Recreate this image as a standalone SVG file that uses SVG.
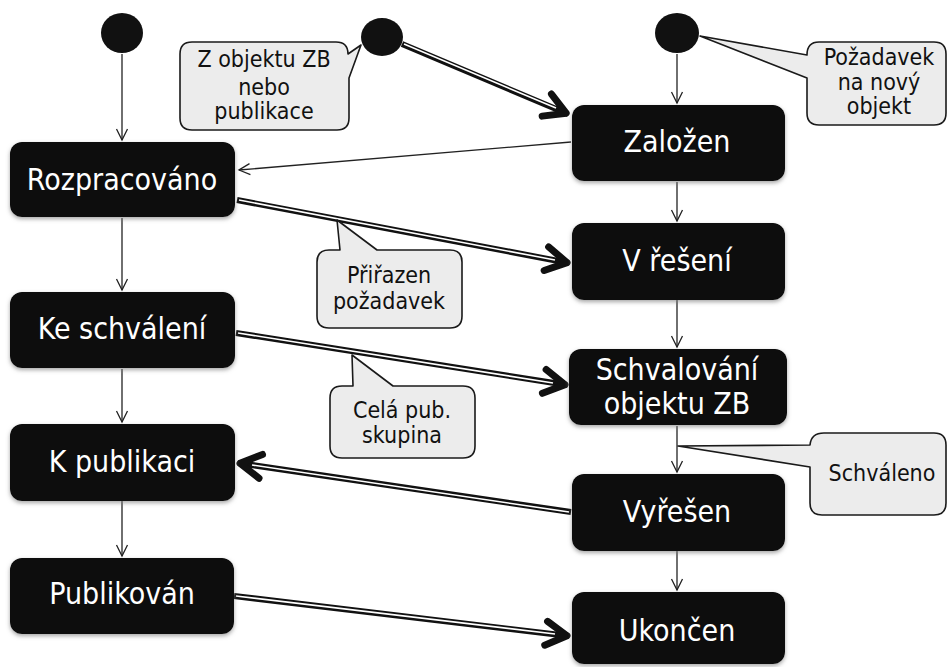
<svg xmlns="http://www.w3.org/2000/svg" width="949" height="667" viewBox="0 0 949 667">
  <defs>
    <style>
      .state rect { fill: #0d0d0d; filter: url(#halo); }
      .state text { fill: #ffffff; font-family: "DejaVu Sans Condensed", "DejaVu Sans", sans-serif; font-stretch: condensed; font-size: 30px; text-anchor: middle; }
      .start { fill: #111111; }
      .note path { fill: #ececec; stroke: #1a1a1a; stroke-width: 1.6; stroke-linejoin: round; }
      .note text { fill: #111111; font-family: "DejaVu Sans Condensed", "DejaVu Sans", sans-serif; font-stretch: condensed; font-size: 23px; text-anchor: middle; }
      .thin { fill: none; stroke: #222222; stroke-width: 1.3; marker-end: url(#open); }
      .thick { fill: none; stroke: #111111; stroke-width: 6; marker-end: url(#bold); }
      .core { fill: none; stroke: #ffffff; stroke-width: 1.6; }
    </style>
    <filter id="halo" x="-10%" y="-15%" width="120%" height="135%">
      <feGaussianBlur in="SourceAlpha" stdDeviation="2"/>
      <feOffset dx="0" dy="2" result="b"/>
      <feFlood flood-color="#808080" flood-opacity="0.7"/>
      <feComposite in2="b" operator="in"/>
      <feMerge><feMergeNode/><feMergeNode in="SourceGraphic"/></feMerge>
    </filter>
    <marker id="open" markerUnits="userSpaceOnUse" viewBox="-14 -8 16 16" markerWidth="16" markerHeight="16" refX="0" refY="0" orient="auto" overflow="visible">
      <path d="M-11,-5.5 L0,0 L-11,5.5" fill="none" stroke="#222222" stroke-width="1.3"/>
    </marker>
    <marker id="bold" markerUnits="userSpaceOnUse" viewBox="-30 -16 34 32" markerWidth="34" markerHeight="32" refX="0" refY="0" orient="auto" overflow="visible">
      <path d="M-23,-12 L-2,0 L-23,12" fill="none" stroke="#111111" stroke-width="7" stroke-linecap="round" stroke-linejoin="round"/>
    </marker>
  </defs>

  <rect width="949" height="667" fill="#ffffff"/>

  <!-- connectors -->
  <g id="connectors">
    <path class="thin" d="M122,54 L122,140"/>
    <path class="thin" d="M677,54 L677,103"/>
    <path class="thin" d="M571,142 L239,170"/>
    <path class="thin" d="M677,182 L677,221"/>
    <path class="thin" d="M677,300 L677,347"/>
    <path class="thin" d="M677,426 L677,472"/>
    <path class="thin" d="M677,551 L677,590"/>
    <path class="thin" d="M122,218 L122,290"/>
    <path class="thin" d="M122,369 L122,422"/>
    <path class="thin" d="M122,501 L122,556"/>

    <path class="thick" d="M402,44 L568,114"/>
    <path class="core" d="M404,44 L556,108"/>
    <path class="thick" d="M237,200 L569,263"/>
    <path class="core" d="M239,200 L555,260"/>
    <path class="thick" d="M236,333 L567,385"/>
    <path class="core" d="M238,333 L553,383"/>
    <path class="thick" d="M571,512 L238,463"/>
    <path class="core" d="M569,512 L252,465"/>
    <path class="thick" d="M234,596 L569,636"/>
    <path class="core" d="M236,596 L555,634"/>
  </g>

  <!-- start points -->
  <g id="start-left"><ellipse class="start" cx="122" cy="33" rx="21" ry="20"/></g>
  <g id="start-middle"><ellipse class="start" cx="382" cy="37" rx="21" ry="19"/></g>
  <g id="start-right"><ellipse class="start" cx="677" cy="33" rx="22" ry="20"/></g>

  <!-- states -->
  <g id="rozpracovano" class="state">
    <rect x="10" y="142" width="225" height="75" rx="12"/>
    <text x="122" y="190">Rozpracováno</text>
  </g>
  <g id="ke-schvaleni" class="state">
    <rect x="10" y="292" width="225" height="76" rx="12"/>
    <text x="122" y="339">Ke schválení</text>
  </g>
  <g id="k-publikaci" class="state">
    <rect x="10" y="424" width="225" height="77" rx="12"/>
    <text x="122" y="472">K publikaci</text>
  </g>
  <g id="publikovan" class="state">
    <rect x="10" y="558" width="224" height="76" rx="12"/>
    <text x="122" y="604">Publikován</text>
  </g>
  <g id="zalozen" class="state">
    <rect x="572" y="105" width="213" height="76" rx="12"/>
    <text x="677" y="152">Založen</text>
  </g>
  <g id="v-reseni" class="state">
    <rect x="572" y="223" width="213" height="77" rx="12"/>
    <text x="677" y="271">V řešení</text>
  </g>
  <g id="schvalovani" class="state">
    <rect x="569" y="349" width="218" height="76" rx="12"/>
    <text x="677" y="380">Schvalování</text>
    <text x="677" y="414">objektu ZB</text>
  </g>
  <g id="vyresen" class="state">
    <rect x="572" y="474" width="213" height="77" rx="12"/>
    <text x="677" y="522">Vyřešen</text>
  </g>
  <g id="ukoncen" class="state">
    <rect x="572" y="592" width="213" height="72" rx="12"/>
    <text x="677" y="641">Ukončen</text>
  </g>

  <!-- notes -->
  <g id="note-zdroj" class="note">
    <path d="M192,42 H336 Q348,42 348,54 L361,45 L349,78 V118 Q349,130 337,130 H192 Q180,130 180,118 V54 Q180,42 192,42 Z"/>
    <text x="264" y="67">Z objektu ZB</text>
    <text x="264" y="95">nebo</text>
    <text x="264" y="119">publikace</text>
  </g>
  <g id="note-pozadavek" class="note">
    <path d="M819,42 H934 Q946,42 946,54 V113 Q946,125 934,125 H819 Q807,125 807,113 V78 L700,36 L807,55 Q807,42 819,42 Z"/>
    <text x="879" y="65">Požadavek</text>
    <text x="879" y="90">na nový</text>
    <text x="879" y="114">objekt</text>
  </g>
  <g id="note-prirazen" class="note">
    <path d="M329,250 H340 L337,220 L377,250 H450 Q462,250 462,262 V316 Q462,328 450,328 H329 Q317,328 317,316 V262 Q317,250 329,250 Z"/>
    <text x="389" y="283">Přiřazen</text>
    <text x="389" y="309">požadavek</text>
  </g>
  <g id="note-skupina" class="note">
    <path d="M342,386 H353 L352,355 L393,386 H463 Q475,386 475,398 V446 Q475,458 463,458 H342 Q330,458 330,446 V398 Q330,386 342,386 Z"/>
    <text x="402" y="418">Celá pub.</text>
    <text x="402" y="443">skupina</text>
  </g>
  <g id="note-schvaleno" class="note">
    <path d="M824,433 H934 Q946,433 946,445 V503 Q946,515 934,515 H822 Q810,515 810,503 V467 L678,446 L810,445 Q811,433 824,433 Z"/>
    <text x="882" y="481">Schváleno</text>
  </g>
</svg>
